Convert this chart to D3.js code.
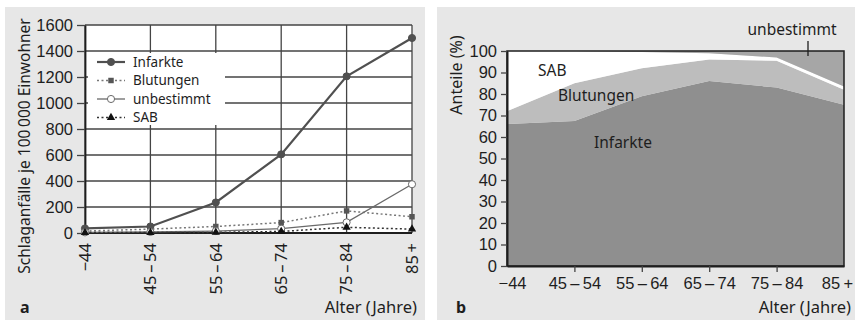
<!DOCTYPE html>
<html>
<head>
<meta charset="utf-8">
<script src="https://cdn.jsdelivr.net/npm/d3@7"></script>
<style>
  body { margin: 0; background: #fff; }
  svg { display: block; font-family: "Noto Sans", "Open Sans", sans-serif; }
</style>
</head>
<body>
<svg id="chart" width="858" height="320"></svg>
<script>
// categories (age groups)
const ageGroups = ['-44', '45-54', '55-64', '65-74', '75-84', '85+']
const ageLabels = ['\u221244', '45\u2009\u2013\u200954', '55\u2009\u2013\u200964', '65\u2009\u2013\u200974', '75\u2009\u2013\u200984', '85\u2009+']

// panel a: strokes per 100 000 inhabitants
const infarkte = [35, 50, 235, 605, 1205, 1500]
const blutungen = [15, 30, 50, 80, 170, 125]
const unbestimmt = [5, 8, 15, 33, 82, 375]
const sab = [3, 3, 5, 12, 44, 30]
const yTicksA = [0, 200, 400, 600, 800, 1000, 1200, 1400, 1600]

// panel b: shares (%)
const shareInfarkte = [66, 67.5, 79, 86, 83, 75]
const shareBlutungen = [6, 17.5, 13, 10, 12.5, 7]
const shareSab = [28, 15, 7.5, 3, 1.5, 1.5]
const shareUnbestimmt = [0, 0, 0.5, 1, 3, 16.5]
const yTicksB = [0, 10, 20, 30, 40, 50, 60, 70, 80, 90, 100]

const svg = d3.select('#chart')
const ink = '#1e1e1e'

// page panels
svg.append('rect').attr('x', 5).attr('y', 7).attr('width', 420).attr('height', 313).attr('fill', '#e7e7e7')
svg.append('rect').attr('x', 437).attr('y', 7).attr('width', 418).attr('height', 313).attr('fill', '#e7e7e7')

// ---------------- panel a ----------------
const a = svg.append('g')
const xA = d3.scalePoint().domain(ageGroups).range([85, 412])
const yA = d3.scaleLinear().domain([0, 1600]).range([233, 25])

a.append('rect')
    .attr('x', xA.range()[0]).attr('y', yA(1600))
    .attr('width', xA.range()[1] - xA.range()[0]).attr('height', yA(0) - yA(1600))
    .attr('fill', '#fff')

// grid
a.selectAll('.hgrid')
    .data(yTicksA)
    .enter()
    .append('line')
    .attr('x1', xA.range()[0]).attr('x2', xA.range()[1])
    .attr('y1', d => yA(d)).attr('y2', d => yA(d))
    .attr('stroke', '#444').attr('stroke-width', 1.3)
a.selectAll('.vgrid')
    .data(ageGroups)
    .enter()
    .append('line')
    .attr('x1', d => xA(d)).attr('x2', d => xA(d))
    .attr('y1', yA(0)).attr('y2', yA(1600))
    .attr('stroke', '#444').attr('stroke-width', 1.3)

// legend box (white, covers grid)
a.append('rect').attr('x', 88).attr('y', 53).attr('width', 137).attr('height', 72).attr('fill', '#fff')

// axes
const yAxisA = d3.axisLeft(yA).tickValues(yTicksA).tickSizeInner(8).tickSizeOuter(0).tickPadding(4)
let axA = a.append('g').attr('transform', `translate(${xA.range()[0]},0)`).call(yAxisA)
axA.select('.domain').attr('stroke', ink).attr('stroke-width', 1.8)
axA.selectAll('.tick line').attr('stroke', '#444').attr('stroke-width', 1.3)
axA.selectAll('text').attr('font-size', '16.5px').attr('fill', ink).text(d => d)

a.append('line')
    .attr('x1', xA.range()[0]).attr('x2', xA.range()[1])
    .attr('y1', yA(0)).attr('y2', yA(0))
    .attr('stroke', ink).attr('stroke-width', 2)

a.selectAll('.xlabA')
    .data(ageGroups)
    .enter()
    .append('text')
    .attr('transform', d => `translate(${xA(d)},243) rotate(-90)`)
    .attr('dy', '0.35em')
    .attr('text-anchor', 'end')
    .attr('font-size', '16.5px')
    .attr('fill', ink)
    .text((d, i) => ageLabels[i])

a.append('text')
    .attr('transform', 'translate(25,146) rotate(-90)')
    .attr('dy', '0.35em')
    .attr('text-anchor', 'middle')
    .attr('font-size', '15.5px')
    .attr('fill', ink)
    .text('Schlaganfälle je 100\u2009000 Einwohner')

a.append('text').attr('x', 417).attr('y', 313).attr('text-anchor', 'end')
    .attr('font-size', '16.5px').attr('fill', ink).text('Alter (Jahre)')
a.append('text').attr('x', 20).attr('y', 313)
    .attr('font-size', '16px').attr('font-weight', 'bold').attr('fill', ink).text('a')

// series
const seriesA = [
    { name: 'Infarkte', values: infarkte, stroke: '#505050', width: 2.2, dash: null, marker: 'circle', fill: '#505050' },
    { name: 'Blutungen', values: blutungen, stroke: '#777', width: 1.5, dash: '2,2.5', marker: 'square', fill: '#555' },
    { name: 'unbestimmt', values: unbestimmt, stroke: '#6a6a6a', width: 1.3, dash: null, marker: 'circle', fill: '#fff' },
    { name: 'SAB', values: sab, stroke: '#333', width: 1.5, dash: '2,2.5', marker: 'triangle', fill: '#111' }
]
const symbolOf = {
    circle: d3.symbol().type(d3.symbolCircle).size(40),
    square: d3.symbol().type(d3.symbolSquare).size(30),
    triangle: d3.symbol().type(d3.symbolTriangle).size(30)
}

let line = d3.line().x((d, i) => xA(ageGroups[i])).y(d => yA(d))

seriesA.forEach((s, k) => {
    a.append('path')
        .attr('d', line(s.values))
        .attr('fill', 'none')
        .attr('stroke', s.stroke)
        .attr('stroke-width', s.width)
        .attr('stroke-dasharray', s.dash)
    a.selectAll('.m' + k)
        .data(s.values)
        .enter()
        .append('path')
        .attr('transform', (d, i) => `translate(${xA(ageGroups[i])},${yA(d)})`)
        .attr('d', symbolOf[s.marker])
        .attr('fill', s.fill)
        .attr('stroke', s.marker === 'circle' ? s.stroke : 'none')
        .attr('stroke-width', 1)

    // legend entry
    let ly = 62 + k * 18.5
    a.append('line')
        .attr('x1', 97).attr('x2', 125).attr('y1', ly).attr('y2', ly)
        .attr('stroke', s.stroke).attr('stroke-width', s.width)
        .attr('stroke-dasharray', s.dash)
    a.append('path')
        .attr('transform', `translate(111,${ly})`)
        .attr('d', symbolOf[s.marker])
        .attr('fill', s.fill)
        .attr('stroke', s.marker === 'circle' ? s.stroke : 'none')
    a.append('text')
        .attr('x', 133).attr('y', ly).attr('dy', '0.35em')
        .attr('font-size', '13.5px').attr('fill', ink)
        .text(s.name)
})

// ---------------- panel b ----------------
const b = svg.append('g')
const xB = d3.scalePoint().domain(ageGroups).range([507, 844])
const yB = d3.scaleLinear().domain([0, 100]).range([266, 51])

const shareRows = ageGroups.map((g, i) => ({
    age: g,
    Infarkte: shareInfarkte[i],
    Blutungen: shareBlutungen[i],
    SAB: shareSab[i],
    unbestimmt: shareUnbestimmt[i]
}))
const keysB = ['Infarkte', 'Blutungen', 'SAB', 'unbestimmt']
const fillB = { Infarkte: '#8f8f8f', Blutungen: '#bdbdbd', SAB: '#ffffff', unbestimmt: '#a6a6a6' }
const stacked = d3.stack().keys(keysB)(shareRows)

let area = d3.area()
    .x(d => xB(d.data.age))
    .y0(d => yB(d[0]))
    .y1(d => yB(d[1]))

b.selectAll('.layer')
    .data(stacked)
    .enter()
    .append('path')
    .attr('d', area)
    .attr('fill', d => fillB[d.key])

b.append('rect')
    .attr('x', xB.range()[0]).attr('y', yB(100))
    .attr('width', xB.range()[1] - xB.range()[0]).attr('height', yB(0) - yB(100))
    .attr('fill', 'none').attr('stroke', ink).attr('stroke-width', 1.5)

const yAxisB = d3.axisLeft(yB).tickValues(yTicksB).tickSizeInner(6).tickSizeOuter(0).tickPadding(4)
let axB = b.append('g').attr('transform', `translate(${xB.range()[0]},0)`).call(yAxisB)
axB.select('.domain').attr('stroke', ink).attr('stroke-width', 2)
axB.selectAll('.tick line').attr('stroke', '#444').attr('stroke-width', 1.3)
axB.selectAll('text').attr('font-size', '16.5px').attr('fill', ink)

const xAxisB = d3.axisBottom(xB).tickSizeInner(6).tickSizeOuter(0).tickPadding(5).tickFormat((d, i) => ageLabels[i])
let bxB = b.append('g').attr('transform', `translate(0,${yB(0)})`).call(xAxisB)
bxB.select('.domain').attr('stroke', ink).attr('stroke-width', 2)
bxB.selectAll('.tick line').attr('stroke', '#444').attr('stroke-width', 1.3)
bxB.selectAll('.tick').filter((d, i) => i === 0 || i === ageGroups.length - 1).select('line').remove()
bxB.selectAll('text').attr('font-size', '16.5px').attr('fill', ink)
    .attr('dx', (d, i) => i === 0 ? 5 : (i === ageGroups.length - 1 ? -7 : 0))

b.append('text')
    .attr('transform', 'translate(456,75) rotate(-90)')
    .attr('dy', '0.35em')
    .attr('text-anchor', 'middle')
    .attr('font-size', '16px')
    .attr('fill', ink)
    .text('Anteile (%)')

b.append('text').attr('x', 851).attr('y', 313).attr('text-anchor', 'end')
    .attr('font-size', '16.5px').attr('fill', ink).text('Alter (Jahre)')
b.append('text').attr('x', 456).attr('y', 313)
    .attr('font-size', '16px').attr('font-weight', 'bold').attr('fill', ink).text('b')

// area labels
b.append('text').attr('x', 538).attr('y', 76).attr('font-size', '15.5px').attr('fill', ink).text('SAB')
b.append('text').attr('x', 558).attr('y', 101).attr('font-size', '15.5px').attr('fill', ink).text('Blutungen')
b.append('text').attr('x', 594).attr('y', 148).attr('font-size', '15.5px').attr('fill', ink).text('Infarkte')
b.append('text').attr('x', 792).attr('y', 35).attr('text-anchor', 'middle')
    .attr('font-size', '15.5px').attr('fill', ink).text('unbestimmt')
b.append('line').attr('x1', 808).attr('x2', 808).attr('y1', 41).attr('y2', 56)
    .attr('stroke', ink).attr('stroke-width', 1.3)
</script>
</body>
</html>
